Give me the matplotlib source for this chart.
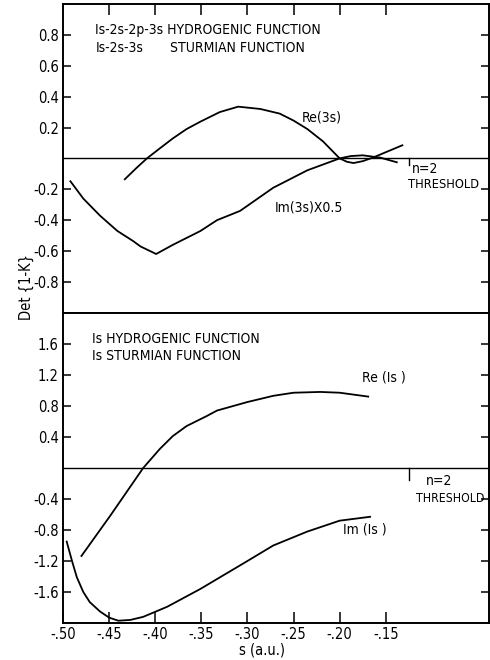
import matplotlib
matplotlib.use("Agg")
import matplotlib.pyplot as plt

plt.rcParams['font.family'] = ['DejaVu Sans']
plt.rcParams['font.stretch'] = 'condensed'
plt.rcParams['font.size'] = 10

# upper panel: 1s-2s-2p-3s / 1s-2s-3s
re3s_s = [-0.433, -0.420, -0.409, -0.395, -0.381, -0.366, -0.351, -0.330,
          -0.310, -0.286, -0.265, -0.250, -0.235, -0.218, -0.200, -0.192,
          -0.185, -0.175, -0.164, -0.150, -0.132]
re3s_v = [-0.135, -0.06, 0.0, 0.065, 0.129, 0.19, 0.238, 0.30,
          0.335, 0.32, 0.29, 0.245, 0.19, 0.11, 0.0, -0.022,
          -0.03, -0.018, 0.005, 0.04, 0.085]

im3s_s = [-0.492, -0.478, -0.460, -0.441, -0.424, -0.416, -0.399, -0.381,
          -0.351, -0.333, -0.308, -0.272, -0.235, -0.200, -0.188, -0.175,
          -0.156, -0.138]
im3s_v = [-0.148, -0.26, -0.37, -0.47, -0.535, -0.57, -0.619, -0.56,
          -0.47, -0.40, -0.34, -0.19, -0.077, 0.0, 0.015, 0.02,
          0.005, -0.025]

# lower panel: 1s
re1s_s = [-0.480, -0.449, -0.413, -0.395, -0.381, -0.366, -0.344, -0.333,
          -0.300, -0.272, -0.250, -0.221, -0.200, -0.169]
re1s_v = [-1.135, -0.62, 0.0, 0.245, 0.41, 0.54, 0.67, 0.74,
          0.85, 0.93, 0.97, 0.98, 0.97, 0.92]

im1s_s = [-0.496, -0.490, -0.485, -0.478, -0.471, -0.460, -0.450, -0.440,
          -0.427, -0.413, -0.387, -0.351, -0.300, -0.272, -0.235, -0.200,
          -0.167]
im1s_v = [-0.95, -1.21, -1.41, -1.60, -1.73, -1.85, -1.93, -1.97,
          -1.96, -1.92, -1.79, -1.56, -1.20, -1.00, -0.82, -0.68,
          -0.63]

threshold = -0.125
xticks = [-0.50, -0.45, -0.40, -0.35, -0.30, -0.25, -0.20, -0.15]
xticklabels = ['-.50', '-.45', '-.40', '-.35', '-.30', '-.25', '-.20', '-.15']
top_yticks = [0.8, 0.6, 0.4, 0.2, -0.2, -0.4, -0.6, -0.8]
bot_yticks = [1.6, 1.2, 0.8, 0.4, -0.4, -0.8, -1.2, -1.6]

fig = plt.figure(figsize=(4.9, 6.6), dpi=100)
ax1 = fig.add_axes([0.1286, 0.526, 0.8694, 0.468])
ax2 = fig.add_axes([0.1286, 0.056, 0.8694, 0.470])

lw = 1.3
fs = 10.5
ft = 10  # in-plot text
for ax in (ax1, ax2):
    ax.set_xlim(-0.5, -0.038)
    for sp in ax.spines.values():
        sp.set_linewidth(1.4)
    ax.axhline(0, color='black', lw=1.0)
    ax.tick_params(direction='in', length=6, width=1.1, right=True,
                   labelsize=fs, pad=3)

# upper panel
ax1.plot(re3s_s, re3s_v, color='black', lw=lw)
ax1.plot(im3s_s, im3s_v, color='black', lw=lw)
ax1.set_ylim(-1, 1)
ax1.set_yticks(top_yticks)
ax1.set_yticklabels([f'{v:.1f}' for v in top_yticks])
ax1.set_xticks(xticks[1:])
ax1.tick_params(axis='x', top=True, bottom=False, labelbottom=False, length=8)
ax1.plot([threshold, threshold], [0, -0.045], color='black', lw=1.0)

ax1.text(-0.465, 0.832, 'Is-2s-2p-3s HYDROGENIC FUNCTION', va='center', fontsize=ft)
ax1.text(-0.465, 0.716, 'Is-2s-3s', va='center', fontsize=ft)
ax1.text(-0.384, 0.716, 'STURMIAN FUNCTION', va='center', fontsize=ft)
ax1.text(-0.241, 0.265, 'Re(3s)', va='center', fontsize=ft)
ax1.text(-0.270, -0.32, 'Im(3s)X0.5', va='center', fontsize=ft)
ax1.text(-0.122, -0.07, 'n=2', va='center', fontsize=ft)
ax1.text(-0.126, -0.168, 'THRESHOLD', va='center', fontsize=9.2)

# lower panel
ax2.plot(re1s_s, re1s_v, color='black', lw=lw)
ax2.plot(im1s_s, im1s_v, color='black', lw=lw)
ax2.set_ylim(-2, 2)
ax2.set_yticks(bot_yticks)
ax2.set_yticklabels([f'{v:.1f}' for v in bot_yticks])
ax2.set_xticks(xticks)
ax2.set_xticklabels(xticklabels)
ax2.tick_params(axis='x', top=False, length=8)
ax2.plot([threshold, threshold], [0, -0.15], color='black', lw=1.0)

ax2.text(-0.4686, 1.66, 'Is HYDROGENIC FUNCTION', va='center', fontsize=ft)
ax2.text(-0.4686, 1.445, 'Is STURMIAN FUNCTION', va='center', fontsize=ft)
ax2.text(-0.176, 1.16, 'Re (Is )', va='center', fontsize=ft)
ax2.text(-0.196, -0.80, 'Im (Is )', va='center', fontsize=ft)
ax2.text(-0.107, -0.17, 'n=2', va='center', fontsize=ft)
ax2.text(-0.117, -0.39, 'THRESHOLD', va='center', fontsize=8.8)

ax2.text((262 - 63) / 426, -0.088, 's (a.u.)', transform=ax2.transAxes,
         ha='center', va='center', fontsize=fs)
fig.text(26 / 490, 1 - 287 / 660, 'Det {1-K}', rotation=90,
         ha='center', va='center', fontsize=fs)

fig.savefig('out.png', dpi=100)
